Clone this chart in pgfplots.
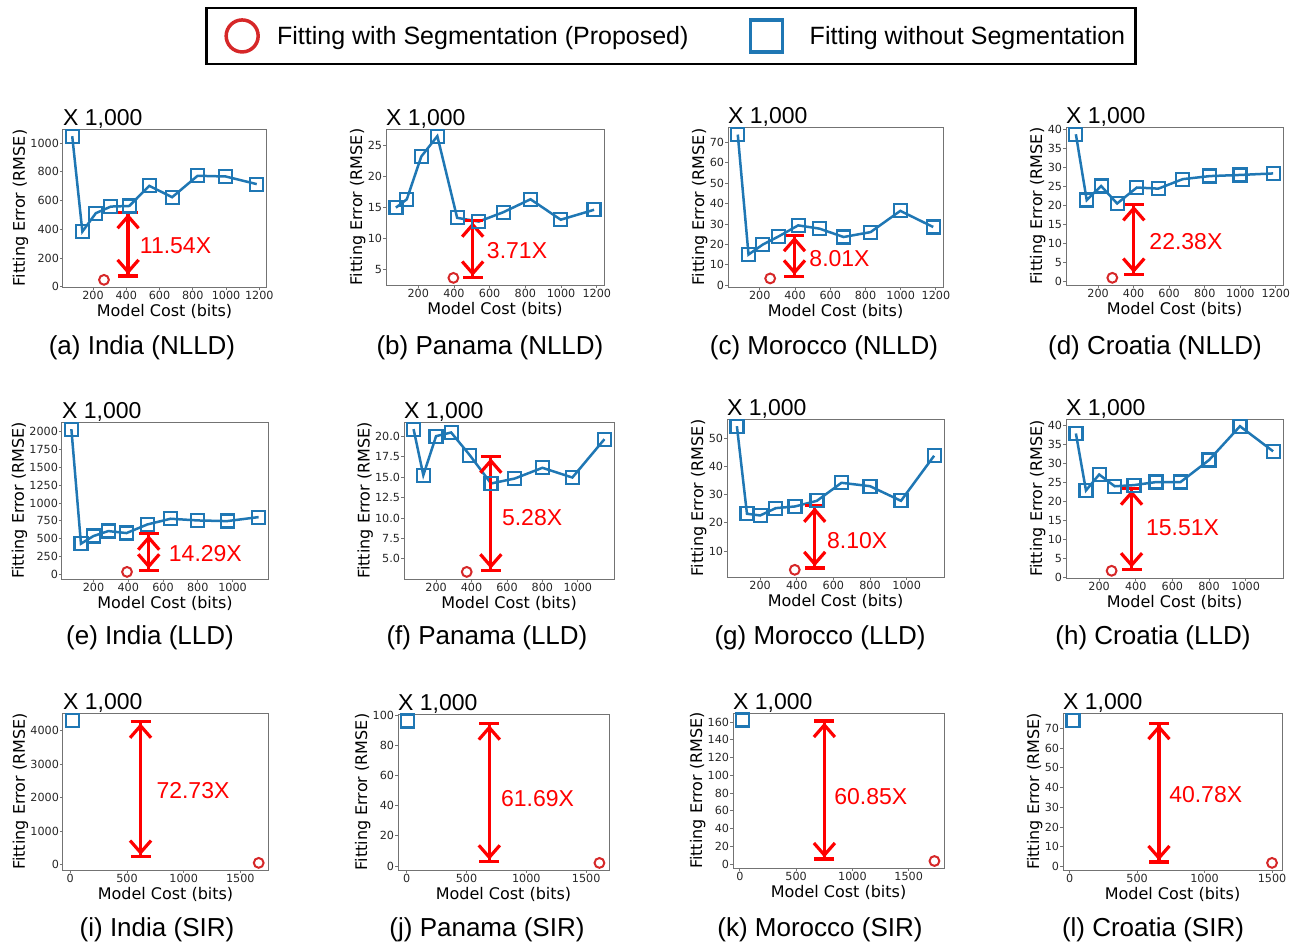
\documentclass[border=0pt]{standalone}
\usepackage{pgfplots}
\pgfplotsset{compat=1.18}
\usepackage{fontspec}
\setmainfont{DejaVu Sans}
\newfontfamily\arial{Liberation Sans}
\usetikzlibrary{arrows.meta}
\definecolor{tblue}{HTML}{1F77B4}
\definecolor{tred}{HTML}{D62728}
\pgfplotsset{
 sub/.style={
   scale only axis, anchor=north west, clip=false,
   axis line style={black!55, line width=1pt},
   tick style={black!55, line width=0.8pt},
   tick align=outside, major tick length=3pt, tick pos=left,
   tick label style={font=\fontsize{11.2}{13}\selectfont, text=black!85},
   yticklabel style={inner xsep=0.8pt},
   xticklabel style={inner ysep=1.2pt},
   /pgf/number format/assume math mode=true,
   /pgf/number format/1000 sep={},
   scaled ticks=false,
   label style={font=\fontsize{16}{19}\selectfont},
   xlabel={Model Cost (bits)}, ylabel={Fitting Error (RMSE)},
   xlabel style={inner sep=1pt, yshift=-2pt}, ylabel style={inner sep=1.2pt},
 },
 blueline/.style={color=tblue, line width=2.5pt, mark=square, mark size=6.5pt, mark options={line width=2.2pt, solid}},
 redcirc/.style={color=tred, only marks, mark=o, mark size=4.9pt, mark options={line width=2pt}},
 nlld/.style={sub, xmin=19.5, xmax=1240.5, xtick={200,400,...,1200}},
 lld/.style={sub, xmin=19, xmax=1204, xtick={200,400,...,1000}},
 sir/.style={sub, xtick={0,500,1000,1500}},
}
\tikzset{
 redarrow/.style={draw=red, line width=3.2pt, {Bar[width=20pt]Straight Barb[length=12pt,width=21pt]}-{Straight Barb[length=12pt,width=21pt]Bar[width=20pt]}},
 lbl/.style={anchor=west, inner sep=0pt, text=red, font=\arial\fontsize{23}{27}\selectfont},
 xk/.style={anchor=base west, inner sep=0pt, yshift=4pt, font=\arial\fontsize{23}{27}\selectfont},
 subcap/.style={anchor=base, inner sep=0pt, font=\arial\fontsize{26}{30}\selectfont},
}
\begin{document}
\begin{tikzpicture}
\useasboundingbox (0pt,0pt) rectangle (1297pt,-945pt);

% (a) India NLLD
\begin{axis}[nlld, at={(63pt,-129pt)}, width=203pt, height=158pt, ymin=-1, ymax=1097, ytick={0,200,...,1000},
  legend style={at={(axis description cs:2.995,1.589)}, anchor=center, draw=black, line width=2.8pt,
    font=\arial\fontsize{25}{30}\selectfont, legend columns=2, inner xsep=8pt, inner ysep=12pt,
    /tikz/column 1/.style={column sep=17pt},
    /tikz/column 2/.style={column sep=49pt},
    /tikz/column 3/.style={column sep=25pt}},
  legend cell align=left,
  legend image code/.code={\path (-26pt,0pt); \draw[#1, mark size=16pt, mark options={line width=3.5pt}] plot coordinates {(0pt,0pt)};}]
\addplot[redcirc] coordinates {(266,48.7)};
\addlegendentry{Fitting with Segmentation (Proposed)}
\addplot[blueline] coordinates {(75,1047) (136,384) (217,512) (307,558) (418,562) (539,702) (676,623) (829,772) (998,767) (1185,714)};
\addlegendentry{Fitting without Segmentation}
\draw[redarrow] (axis cs:411,530) -- (axis cs:411,65);
\node[lbl] at (axis cs:481,286) {11.54X};
\node[xk] at (rel axis cs:0,1) {X 1,000};
\end{axis}

% (b) Panama NLLD
\begin{axis}[nlld, at={(386pt,-129pt)}, width=218pt, height=156pt, ymin=2.45, ymax=27.65, ytick={5,10,...,25}]
\addplot[blueline] coordinates {(75,14.95) (136,16.3) (217,23.2) (307,26.5) (418,13.3) (539,12.7) (676,14.2) (829,16.3) (998,13.0) (1185,14.6)};
\addplot[redcirc] coordinates {(397,3.6)};
\draw[redarrow] (axis cs:505,13.1) -- (axis cs:505,3.4);
\node[lbl] at (axis cs:584,8.0) {3.71X};
\node[xk] at (rel axis cs:0,1) {X 1,000};
\end{axis}

% (c) Morocco NLLD
\begin{axis}[nlld, at={(728pt,-127pt)}, width=215pt, height=160pt, ymin=-0.9, ymax=77.5, ytick={0,10,...,70}]
\addplot[blueline] coordinates {(75,73.8) (136,15.0) (217,19.9) (307,23.9) (418,29.3) (539,27.7) (676,23.6) (829,26.0) (998,36.4) (1185,28.5)};
\addplot[redcirc] coordinates {(259,3.3)};
\draw[redarrow] (axis cs:397,25.3) -- (axis cs:397,3.5);
\node[lbl] at (axis cs:481,12.9) {8.01X};
\node[xk] at (rel axis cs:0,1) {X 1,000};
\end{axis}

% (d) Croatia NLLD
\begin{axis}[nlld, at={(1066pt,-127pt)}, width=217pt, height=158pt, ymin=-0.92, ymax=40.6, ytick={0,5,...,40}]
\addplot[blueline] coordinates {(75,38.7) (136,21.4) (217,25.1) (307,20.5) (418,24.7) (539,24.4) (676,26.9) (829,27.7) (998,28.0) (1185,28.4)};
\addplot[redcirc] coordinates {(280,0.97)};
\draw[redarrow] (axis cs:401,20.7) -- (axis cs:401,1.4);
\node[lbl] at (axis cs:488,10.6) {22.38X};
\node[xk] at (rel axis cs:0,1) {X 1,000};
\end{axis}

% (e) India LLD
\begin{axis}[lld, at={(62pt,-422pt)}, width=206pt, height=157pt, ymin=-67, ymax=2137, ytick={0,250,...,2000}]
\addplot[blueline] coordinates {(73,2037) (128,429) (200,536) (285,606) (390,578) (510,699) (644,779) (800,755) (969,746) (1150,802)};
\addplot[redcirc] coordinates {(393,33)};
\draw[redarrow] (axis cs:518,592) -- (axis cs:518,33);
\node[lbl] at (axis cs:633,289) {14.29X};
\node[xk] at (rel axis cs:0,1) {X 1,000};
\end{axis}

% (f) Panama LLD
\begin{axis}[lld, at={(404pt,-422pt)}, width=210pt, height=157pt, ymin=2.53, ymax=21.73, ytick={2.5,5,...,20},
  yticklabel style={/pgf/number format/.cd, fixed, fixed zerofill, precision=1}]
\addplot[blueline] coordinates {(73,20.86) (128,15.23) (200,20.0) (285,20.45) (390,17.68) (510,14.21) (644,14.82) (800,16.13) (969,14.94) (1150,19.63)};
\addplot[redcirc] coordinates {(373,3.4)};
\draw[redarrow] (axis cs:509,17.68) -- (axis cs:509,3.4);
\node[lbl] at (axis cs:571,10.1) {5.28X};
\node[xk] at (rel axis cs:0,1) {X 1,000};
\end{axis}

% (g) Morocco LLD
\begin{axis}[lld, at={(727pt,-419pt)}, width=217pt, height=158pt, ymin=0.75, ymax=56.85, ytick={10,20,...,50}]
\addplot[blueline] coordinates {(73,54.3) (128,23.2) (200,22.6) (285,25.2) (390,25.8) (510,27.8) (644,34.2) (800,33.0) (969,27.8) (1150,43.8)};
\addplot[redcirc] coordinates {(389,3.3)};
\draw[redarrow] (axis cs:498,26.6) -- (axis cs:498,3.4);
\node[lbl] at (axis cs:565,13.8) {8.10X};
\node[xk] at (rel axis cs:0,1) {X 1,000};
\end{axis}

% (h) Croatia LLD
\begin{axis}[lld, at={(1066pt,-419pt)}, width=217pt, height=159pt, ymin=-0.14, ymax=41.7, ytick={0,5,...,40}]
\addplot[blueline] coordinates {(73,37.9) (128,22.9) (200,27.1) (285,24.0) (390,24.3) (510,25.1) (644,25.1) (800,30.9) (969,39.8) (1150,33.2)};
\addplot[redcirc] coordinates {(268,1.76)};
\draw[redarrow] (axis cs:377,23.8) -- (axis cs:377,1.76);
\node[lbl] at (axis cs:455,13.0) {15.51X};
\node[xk] at (rel axis cs:0,1) {X 1,000};
\end{axis}

% (i) India SIR
\begin{axis}[sir, at={(63pt,-713pt)}, width=205pt, height=157pt, xmin=-64, xmax=1744, ymin=-154, ymax=4531, ytick={0,1000,...,4000}]
\addplot[blueline] coordinates {(18,4318)};
\addplot[redcirc] coordinates {(1662,59)};
\draw[redarrow] (axis cs:620,4318) -- (axis cs:620,199);
\node[lbl] at (axis cs:759,2203) {72.73X};
\node[xk] at (rel axis cs:0,1) {X 1,000};
\end{axis}

% (j) Panama SIR
\begin{axis}[sir, at={(398pt,-714pt)}, width=211pt, height=156pt, xmin=-72, xmax=1691, ymin=-2.7, ymax=100.9, ytick={0,20,...,100}]
\addplot[blueline] coordinates {(8,96.2)};
\addplot[redcirc] coordinates {(1611,2.0)};
\draw[redarrow] (axis cs:691,95.6) -- (axis cs:691,2.0);
\node[lbl] at (axis cs:788,44.7) {61.69X};
\node[xk] at (rel axis cs:0,1) {X 1,000};
\end{axis}

% (k) Morocco SIR
\begin{axis}[sir, at={(733pt,-713pt)}, width=211pt, height=155pt, xmin=-61, xmax=1814, ymin=-4.5, ymax=170.2, ytick={0,20,...,160}]
\addplot[blueline] coordinates {(24,162.3)};
\addplot[redcirc] coordinates {(1729,3.4)};
\draw[redarrow] (axis cs:751,163) -- (axis cs:751,3.8);
\node[lbl] at (axis cs:838,76.2) {60.85X};
\node[xk] at (rel axis cs:0,1) {X 1,000};
\end{axis}

% (l) Croatia SIR
\begin{axis}[sir, at={(1063pt,-713pt)}, width=219pt, height=157pt, xmin=-49, xmax=1574, ymin=-1.76, ymax=77.7, ytick={0,10,...,70}]
\addplot[blueline] coordinates {(25,74.1)};
\addplot[redcirc] coordinates {(1500,1.85)};
\draw[redarrow] (axis cs:662,73.4) -- (axis cs:662,1.5);
\node[lbl] at (axis cs:737,36.3) {40.78X};
\node[xk] at (rel axis cs:0,1) {X 1,000};
\end{axis}

% captions
\node[subcap] at (142pt,-354pt) {(a) India (NLLD)};
\node[subcap] at (490pt,-354pt) {(b) Panama (NLLD)};
\node[subcap] at (824pt,-354pt) {(c) Morocco (NLLD)};
\node[subcap] at (1155pt,-354pt) {(d) Croatia (NLLD)};
\node[subcap] at (150pt,-644pt) {(e) India (LLD)};
\node[subcap] at (487pt,-644pt) {(f) Panama (LLD)};
\node[subcap] at (820pt,-644pt) {(g) Morocco (LLD)};
\node[subcap] at (1153pt,-644pt) {(h) Croatia (LLD)};
\node[subcap] at (157pt,-936pt) {(i) India (SIR)};
\node[subcap] at (487pt,-936pt) {(j) Panama (SIR)};
\node[subcap] at (820pt,-936pt) {(k) Morocco (SIR)};
\node[subcap] at (1153pt,-936pt) {(l) Croatia (SIR)};
\end{tikzpicture}
\end{document}
